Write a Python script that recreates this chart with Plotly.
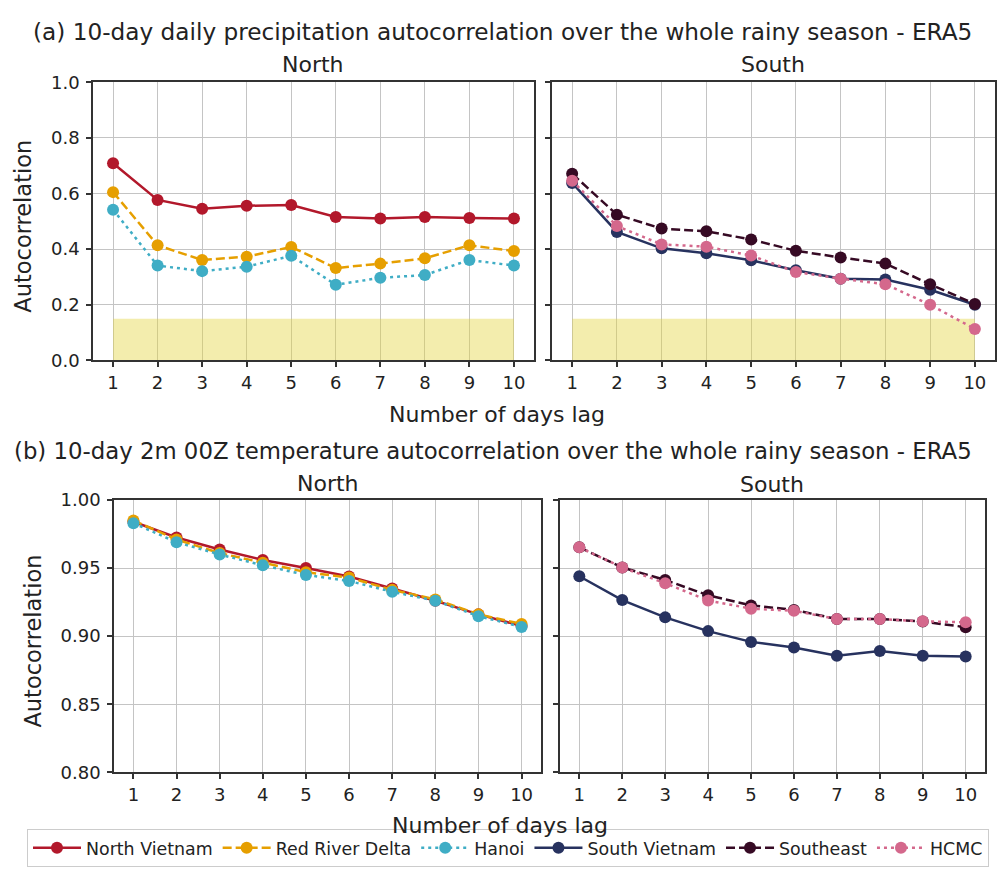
import plotly.graph_objects as go

# ---------------- data ----------------
lags = [1, 2, 3, 4, 5, 6, 7, 8, 9, 10]

# (a) precipitation autocorrelation
pr_north_vietnam = [0.709, 0.577, 0.545, 0.556, 0.559, 0.516, 0.510, 0.516, 0.512, 0.510]
pr_red_river = [0.605, 0.414, 0.361, 0.373, 0.408, 0.332, 0.348, 0.367, 0.414, 0.393]
pr_hanoi = [0.542, 0.341, 0.321, 0.337, 0.376, 0.272, 0.297, 0.307, 0.361, 0.341]
pr_south_vietnam = [0.638, 0.462, 0.403, 0.385, 0.360, 0.324, 0.294, 0.291, 0.254, 0.200]
pr_southeast = [0.671, 0.524, 0.474, 0.464, 0.435, 0.394, 0.370, 0.348, 0.274, 0.203]
pr_hcmc = [0.646, 0.483, 0.417, 0.409, 0.377, 0.318, 0.294, 0.274, 0.200, 0.113]

# (b) 2m 00Z temperature autocorrelation
t_north_vietnam = [0.984, 0.9725, 0.9637, 0.956, 0.950, 0.9438, 0.935, 0.926, 0.916, 0.9075]
t_red_river = [0.985, 0.971, 0.961, 0.954, 0.947, 0.943, 0.934, 0.927, 0.916, 0.909]
t_hanoi = [0.983, 0.969, 0.960, 0.952, 0.945, 0.9405, 0.9326, 0.926, 0.9147, 0.9068]
t_south_vietnam = [0.944, 0.9265, 0.9138, 0.9037, 0.8958, 0.8917, 0.8857, 0.8891, 0.8857, 0.885]
t_southeast = [0.9653, 0.9504, 0.9413, 0.930, 0.9226, 0.9193, 0.9126, 0.9126, 0.9107, 0.9066]
t_hcmc = [0.9653, 0.9504, 0.9389, 0.9262, 0.9202, 0.9186, 0.9126, 0.9126, 0.9109, 0.9102]

# significance band (precipitation panels)
band_x = [1, 10]
band_top = [0.15, 0.15]

series_names = ["North Vietnam", "Red River Delta", "Hanoi", "South Vietnam", "Southeast", "HCMC"]
colors = ["#b2182b", "#e69f00", "#3fadc5", "#27325f", "#360a24", "#d4688c"]
dashes = ["solid", "9px,4px", "3px,4px", "solid", "9px,4px", "3px,4px"]

W, H = 1000, 877


def dx(px):
    return px / W


def dy(py):
    return 1 - py / H


FONT = "DejaVu Sans"
TXT = "#222222"

fig = go.Figure()

panels = [
    ("", [pr_north_vietnam, pr_red_river, pr_hanoi], 0),
    ("2", [pr_south_vietnam, pr_southeast, pr_hcmc], 3),
    ("3", [t_north_vietnam, t_red_river, t_hanoi], 0),
    ("4", [t_south_vietnam, t_southeast, t_hcmc], 3),
]

# yellow band in top panels
for suf in ["", "2"]:
    fig.add_trace(go.Scatter(
        x=band_x, y=band_top, mode="lines", fill="tozeroy",
        fillcolor="rgba(226,212,60,0.42)", line=dict(width=0),
        xaxis="x" + suf, yaxis="y" + suf, showlegend=False, hoverinfo="skip"))

for suf, data, off in panels:
    for k, vals in enumerate(data):
        i = off + k
        fig.add_trace(go.Scatter(
            x=lags, y=vals, mode="lines+markers", name=series_names[i],
            line=dict(color=colors[i], width=2.5, dash=dashes[i]),
            marker=dict(color=colors[i], size=12),
            xaxis="x" + suf, yaxis="y" + suf,
            showlegend=(suf in ["", "2"]), legendgroup=series_names[i]))

axis_common = dict(
    showline=True, linecolor="#333333", linewidth=1.5, mirror=True,
    ticks="outside", ticklen=5, tickwidth=1.5, tickcolor="#333333",
    showgrid=True, gridcolor="#c4c4c4", gridwidth=1.2, zeroline=False,
    tickfont=dict(family=FONT, size=18, color=TXT),
)

xrange = [0.55, 10.45]
top_dom = [dy(358), dy(73)]
bot_dom = [dy(780), dy(501)]

layout_axes = dict(
    xaxis=dict(domain=[dx(93), dx(534)], range=xrange, tickvals=lags, anchor="y", **axis_common),
    yaxis=dict(domain=top_dom, range=[0, 1], tickvals=[0, 0.2, 0.4, 0.6, 0.8, 1.0], tickformat=".1f",
               anchor="x", ticklabelstandoff=3, **axis_common),
    xaxis2=dict(domain=[dx(552), dx(995)], range=xrange, tickvals=lags, anchor="y2", **axis_common),
    yaxis2=dict(domain=top_dom, range=[0, 1], tickvals=[0, 0.2, 0.4, 0.6, 0.8, 1.0], showticklabels=False,
                anchor="x2", **axis_common),
    xaxis3=dict(domain=[dx(114), dx(541)], range=xrange, tickvals=lags, anchor="y3", **axis_common),
    yaxis3=dict(domain=bot_dom, range=[0.8, 1.0], tickvals=[0.80, 0.85, 0.90, 0.95, 1.00], tickformat=".2f",
                anchor="x3", ticklabelstandoff=3, **axis_common),
    xaxis4=dict(domain=[dx(560), dx(985)], range=xrange, tickvals=lags, anchor="y4", **axis_common),
    yaxis4=dict(domain=bot_dom, range=[0.8, 1.0], tickvals=[0.80, 0.85, 0.90, 0.95, 1.00], showticklabels=False,
                anchor="x4", **axis_common),
)


def ann(text, x, y, size, angle=0, xanchor="center"):
    return dict(text=text, x=dx(x), y=dy(y), xref="paper", yref="paper", showarrow=False,
                xanchor=xanchor, yanchor="middle", textangle=angle,
                font=dict(family=FONT, size=size, color=TXT))


annotations = [
    ann("(a) 10-day daily precipitation autocorrelation over the whole rainy season - ERA5", 502, 21, 23.2),
    ann("North", 313, 55, 22),
    ann("South", 773, 55, 22),
    ann("Autocorrelation", 23, 221, 22.5, angle=-90),
    ann("Number of days lag", 497, 413, 22),
    ann("(b) 10-day 2m 00Z temperature autocorrelation over the whole rainy season - ERA5", 493, 451, 22.8),
    ann("North", 328, 484, 22),
    ann("South", 772, 485, 22),
    ann("Autocorrelation", 33, 646, 22.5, angle=-90),
    ann("Number of days lag", 500, 834, 22),
]

fig.update_layout(
    width=W, height=H,
    margin=dict(l=0, r=0, t=0, b=0),
    paper_bgcolor="white", plot_bgcolor="white",
    font=dict(family=FONT, color=TXT),
    annotations=annotations,
    showlegend=True,
    legend=dict(orientation="h", x=dx(508), xanchor="center", y=0, yanchor="bottom",
                bordercolor="#cccccc", borderwidth=1, bgcolor="white",
                font=dict(family=FONT, size=17.4, color=TXT), itemwidth=48,
                traceorder="normal"),
    **layout_axes,
)

fig.write_html("out.html")
